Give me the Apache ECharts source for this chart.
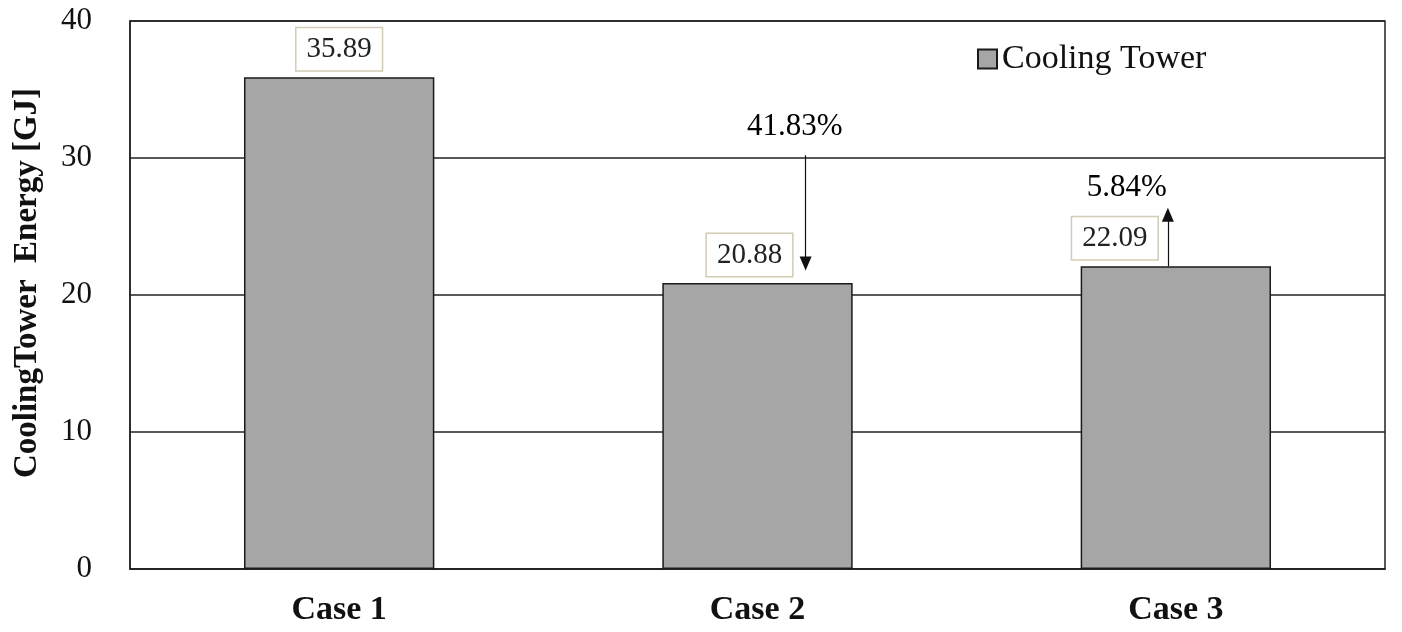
<!DOCTYPE html>
<html>
<head>
<meta charset="utf-8">
<script src="https://cdn.jsdelivr.net/npm/echarts@6/dist/echarts.min.js"></script>
<style>
html,body{margin:0;padding:0;background:#fff;}
#main{width:1402px;height:632px;}
</style>
</head>
<body>
<div id="main"></div>
<script>
// ---- data ----
var categories = ['Case 1', 'Case 2', 'Case 3'];
var seriesName = 'Cooling Tower';
var energy = [35.89, 20.88, 22.09];
var yMin = 0, yMax = 40, yInterval = 10;
var yAxisTitle = 'CoolingTower  Energy [GJ]';
// change annotations (in data units; x as category index)
var changeTexts = ['41.83%', '5.84%'];
var changeTextX = [1.089, 1.883];
var changeTextY = [32.3, 27.8];
var arrowX = [1.115, 1.981];
var arrowFrom = [30.2, 22.09];
var arrowTo = [22.3, 25.85];

var FONT = '"Liberation Serif", "Times New Roman", serif';

var labelOffsets = [[0, 0], [-8, 0], [-61, 0]];
var barData = energy.map(function (v, i) {
  return { value: v, label: { offset: labelOffsets[i] } };
});

var arrowLines = arrowX.map(function (x, i) {
  return [{ coord: [x, arrowFrom[i]] }, { coord: [x, arrowTo[i]] }];
});
var textPoints = changeTexts.map(function (t, i) {
  return { value: [changeTextX[i], changeTextY[i]], name: t };
});

var chart = echarts.init(document.getElementById('main'));
chart.setOption({
  animation: false,
  backgroundColor: '#fff',
  textStyle: { fontFamily: FONT },
  grid: {
    left: 130, right: 17, top: 21, bottom: 63,
    show: true, borderColor: '#222', borderWidth: 1.5, backgroundColor: 'transparent'
  },
  legend: {
    left: 972, top: 37,
    itemWidth: 19, itemHeight: 19, itemGap: 10,
    icon: 'rect',
    textStyle: { fontFamily: FONT, fontSize: 34, color: '#111' },
    data: [seriesName]
  },
  xAxis: [{
    type: 'category',
    data: categories,
    axisLine: { onZero: false, lineStyle: { color: '#222', width: 1.5 } },
    axisTick: { show: false },
    splitLine: { show: false },
    axisLabel: { fontFamily: FONT, fontSize: 34, fontWeight: 'bold', color: '#111', margin: 24 }
  }, {
    type: 'value', min: -0.5, max: 2.5, show: false,
    axisLine: { show: false, onZero: false }, splitLine: { show: false }
  }],
  yAxis: {
    type: 'value', min: yMin, max: yMax, interval: yInterval,
    name: yAxisTitle, nameLocation: 'middle', nameGap: 86,
    nameTextStyle: { fontFamily: FONT, fontSize: 33, fontWeight: 'bold', color: '#111', padding: [0, 0, 0, 24] },
    axisLine: { show: true, onZero: false, lineStyle: { color: '#222', width: 1.5 } },
    axisTick: { show: false },
    axisLabel: { fontFamily: FONT, fontSize: 31, color: '#111', margin: 38 },
    splitLine: { lineStyle: { color: '#222', width: 1.5 } }
  },
  series: [{
    name: seriesName,
    type: 'bar',
    barWidth: '45.5%',
    data: barData,
    itemStyle: { color: '#a6a6a6', borderColor: '#1a1a1a', borderWidth: 1.5 },
    label: {
      show: true, position: 'top', distance: 7,
      fontFamily: FONT, fontSize: 29, color: '#222',
      backgroundColor: '#fff', borderColor: '#d3ccb4', borderWidth: 1.5,
      padding: [6, 10, 5, 10], lineHeight: 31
    }
  }, {
    type: 'scatter',
    xAxisIndex: 1,
    symbolSize: 0,
    data: textPoints,
    silent: true,
    itemStyle: { opacity: 1 },
    label: {
      show: true, position: 'inside',
      formatter: function (p) { return p.name; },
      fontFamily: FONT, fontSize: 31, color: '#000'
    },
    markLine: {
      silent: true,
      symbol: ['none', 'triangle'],
      symbolSize: [12, 14],
      label: { show: false },
      lineStyle: { color: '#111', width: 1.2, type: 'solid' },
      data: arrowLines
    }
  }]
});
</script>
</body>
</html>
